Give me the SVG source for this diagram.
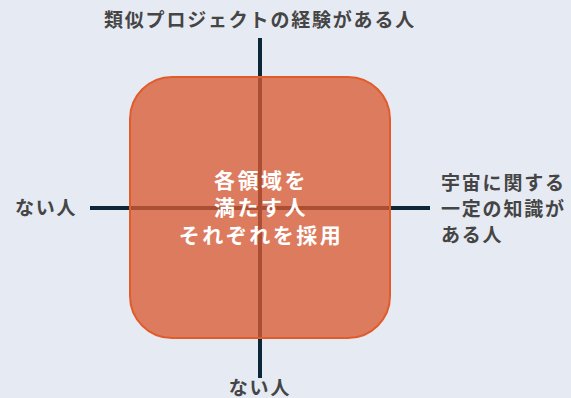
<svg xmlns="http://www.w3.org/2000/svg" width="571" height="398" viewBox="0 0 571 398">
<style>
.lbl{font-family:"Noto Sans CJK JP","Noto Sans",sans-serif;font-weight:bold;font-size:19px;fill:#454545;letter-spacing:1.8px}
.ctr{font-family:"Noto Sans CJK JP","Noto Sans",sans-serif;font-weight:bold;font-size:21px;fill:#ffffff;letter-spacing:2.5px;text-anchor:middle}
.axis{stroke:#0c2738;stroke-width:4;fill:none}
</style>
<rect width="571" height="398" fill="#e6eaf3"/>
<g id="axes">
<line class="axis" x1="260" y1="38" x2="260" y2="378"/>
<line class="axis" x1="90" y1="208" x2="430" y2="208"/>
</g>
<g id="center">
<rect x="130" y="77" width="260" height="261" rx="42" ry="42" fill="#d95b33" fill-opacity="0.78" stroke="#e05c2d" stroke-width="2"/>
<text class="ctr" x="261" y="188">各領域を</text>
<text class="ctr" x="261" y="215">満たす人</text>
<text class="ctr" x="261" y="243">それぞれを採用</text>
</g>
<g id="top"><text class="lbl" x="260" y="27" text-anchor="middle">類似プロジェクトの経験がある人</text></g>
<g id="left"><text class="lbl" x="15" y="215">ない人</text></g>
<g id="right">
<text class="lbl" x="441" y="190">宇宙に関する</text>
<text class="lbl" x="441" y="216">一定の知識が</text>
<text class="lbl" x="441" y="242">ある人</text>
</g>
<g id="bottom"><text class="lbl" x="260" y="395" text-anchor="middle">ない人</text></g>
</svg>
